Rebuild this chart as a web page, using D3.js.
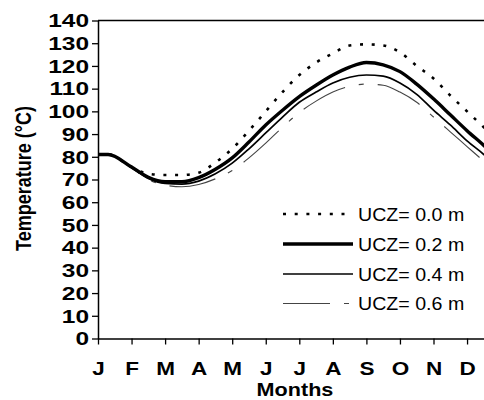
<!DOCTYPE html>
<html lang="en">
<head>
<meta charset="UTF-8">
<title>UCZ temperature</title>
<script src="https://d3js.org/d3.v7.min.js"></script>
<style>
  body { margin: 0; background: #fff; }
  svg { display: block; font-family: "Liberation Sans", Arial, sans-serif; }
</style>
</head>
<body>
<svg width="484" height="400"></svg>
<script>
// month positions (0 = start of January)
const monthPos = [0, 0.3, 1, 1.5, 2, 2.5, 3, 3.5, 4, 4.5, 5, 5.5, 6, 6.5, 7, 7.5, 8, 8.5, 9, 9.5, 10, 10.5, 11, 11.5, 12];
const ucz00 = [81, 81, 75.5, 72.5, 72, 72, 73, 77.5, 83.5, 91.5, 100, 108.5, 116, 121.5, 125.5, 129, 129.5, 129, 126, 120, 114.5, 107, 100, 93, 86];
const ucz02 = [81, 81, 75.5, 71, 69, 69, 70.8, 74.5, 79.5, 86.5, 94, 100.5, 106.5, 111.5, 116, 119.5, 121.5, 120.5, 117.5, 112, 105.5, 98.5, 91.5, 85, 78];
const ucz04 = [81, 81, 75.3, 70.5, 68.3, 68, 69.3, 72.5, 77.2, 83.5, 90.5, 97.5, 104, 108.5, 112.5, 115, 116, 115.5, 112.5, 107.5, 100.5, 94, 87, 81, 74];
const ucz06 = [81, 81, 75, 70, 67.5, 66.8, 67.8, 70.3, 74, 79.5, 86, 93, 99.5, 104.5, 108.5, 111, 112, 111.5, 108.5, 104, 97.5, 91, 84.5, 78, 71];
const monthLabels = ["J", "F", "M", "A", "M", "J", "J", "A", "S", "O", "N", "D"];
const yTicks = d3.range(0, 141, 10);
const seriesNames = ["UCZ= 0.0 m", "UCZ= 0.2 m", "UCZ= 0.4 m", "UCZ= 0.6 m"];

const svg = d3.select("svg");
const mLeft = 98, mTop = 20.5, mBottom = 338.5, mRight = 500.6;
const sx = 1.25; // horizontal stretch of the text in the original
const sxTick = 1.36;
const fs = 18;

const x = d3.scaleLinear().domain([0, 12]).range([mLeft, mRight]);
const y = d3.scaleLinear().domain([0, 140]).range([mBottom, mTop]);

// frame (top + right), clipped by the window
svg.append("path")
  .attr("d", `M${mLeft},${mTop}H${mRight}V${mBottom}`)
  .attr("fill", "none").attr("stroke", "#000").attr("stroke-width", 1.3);

// y axis
const gy = svg.append("g").attr("transform", `translate(${mLeft},0)`)
  .call(d3.axisLeft(y).tickValues(yTicks).tickSize(6).tickSizeOuter(0));
gy.select(".domain").attr("stroke-width", 1.5);
gy.selectAll(".tick line").attr("stroke-width", 1.3);
gy.selectAll(".tick text")
  .attr("x", -9 / sxTick).attr("dy", "0.35em")
  .attr("transform", `scale(${sxTick},1)`)
  .attr("font-size", fs).attr("font-weight", "bold").attr("fill", "#000");

// x axis
const gx = svg.append("g").attr("transform", `translate(0,${mBottom})`)
  .call(d3.axisBottom(x).tickValues(d3.range(0, 12)).tickFormat(i => monthLabels[i]).tickSize(6).tickSizeOuter(0));
gx.select(".domain").attr("stroke-width", 1.5);
gx.selectAll(".tick line").attr("stroke-width", 1.3);
gx.selectAll(".tick text")
  .attr("y", 0).attr("dy", 0)
  .attr("transform", `translate(0,36.5) scale(${sx},1)`)
  .attr("font-size", fs).attr("font-weight", "bold").attr("fill", "#000");
svg.selectAll("g").attr("font-family", null);

// axis titles
svg.append("text")
  .attr("transform", `translate(295,396) scale(1.2,1)`)
  .attr("text-anchor", "middle")
  .attr("font-size", fs).attr("font-weight", "bold")
  .text("Months");
svg.append("text")
  .attr("transform", `translate(31,178.5) scale(${sx},1) rotate(-90)`)
  .attr("text-anchor", "middle")
  .attr("font-size", fs).attr("font-weight", "bold")
  .text("Temperature (°C)");

// series
const styles = [
  { data: ucz00, width: 2.6, color: "#000", dash: "3,8.7" },
  { data: ucz02, width: 3.4, color: "#000", dash: null },
  { data: ucz04, width: 1.7, color: "#000", dash: null },
  { data: ucz06, width: 1.1, color: "#444", dash: "47,14,5,14" }
];

const line = d3.line()
  .x(d => x(d[0]))
  .y(d => y(d[1]))
  .curve(d3.curveMonotoneX);

const plot = svg.append("g");
[3, 2, 1, 0].forEach(i => {
  const s = styles[i];
  plot.append("path")
    .datum(monthPos.map((m, k) => [m, s.data[k]]))
    .attr("d", line)
    .attr("fill", "none")
    .attr("stroke", s.color)
    .attr("stroke-width", s.width)
    .attr("stroke-dasharray", s.dash);
});

// legend
const legendY = [214, 244, 274, 303.5];
const legend = svg.append("g");
styles.forEach((s, i) => {
  legend.append("line")
    .attr("x1", 283).attr("x2", 353)
    .attr("y1", legendY[i]).attr("y2", legendY[i])
    .attr("stroke", s.color)
    .attr("stroke-width", s.width)
    .attr("stroke-dasharray", s.dash);
  legend.append("text")
    .attr("transform", `translate(358,${legendY[i] + 6.5}) scale(1.09,1)`)
    .attr("font-size", fs)
    .text(seriesNames[i]);
});
</script>
</body>
</html>
